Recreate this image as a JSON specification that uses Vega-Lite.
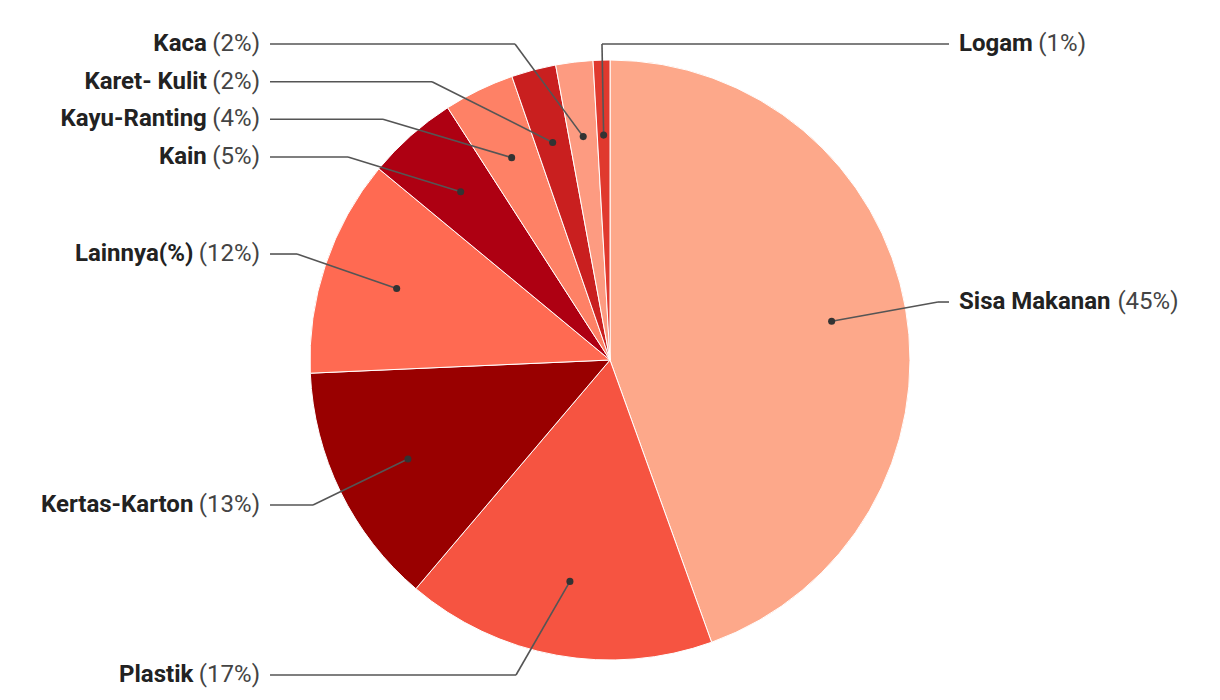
{
  "$schema": "https://vega.github.io/schema/vega-lite/v6.json",
  "width": 1220,
  "height": 680,
  "padding": {"top": 20, "left": 0, "right": 0, "bottom": 0},
  "autosize": {"type": "none"},
  "background": "white",
  "config": {"view": {"stroke": null}, "font": "Roboto"},
  "data": {
    "values": [
      {"idx": 1, "cat": "Sisa Makanan", "value": 44.5, "pct": "(45%)", "side": "R", "ex": 1.0933, "ly": 0.1933},
      {"idx": 2, "cat": "Plastik", "value": 16.7, "pct": "(17%)", "side": "L", "ex": -0.3133, "ly": -1.05},
      {"idx": 3, "cat": "Kertas-Karton", "value": 13.1, "pct": "(13%)", "side": "L", "ex": -0.99, "ly": -0.4833},
      {"idx": 4, "cat": "Lainnya(%)", "value": 11.7, "pct": "(12%)", "side": "L", "ex": -1.0433, "ly": 0.3533},
      {"idx": 5, "cat": "Kain", "value": 4.9, "pct": "(5%)", "side": "L", "ex": -0.8733, "ly": 0.6767},
      {"idx": 6, "cat": "Kayu-Ranting", "value": 3.8, "pct": "(4%)", "side": "L", "ex": -0.7567, "ly": 0.8023},
      {"idx": 7, "cat": "Karet- Kulit", "value": 2.4, "pct": "(2%)", "side": "L", "ex": -0.5933, "ly": 0.9277},
      {"idx": 8, "cat": "Kaca", "value": 2.0, "pct": "(2%)", "side": "L", "ex": -0.3167, "ly": 1.0533},
      {"idx": 9, "cat": "Logam", "value": 0.9, "pct": "(1%)", "side": "R", "ex": -0.0267, "ly": 1.0533}
    ]
  },
  "transform": [
    {"window": [{"op": "sum", "field": "value", "as": "cum"}], "sort": [{"field": "idx", "order": "ascending"}], "frame": [null, 0]},
    {"joinaggregate": [{"op": "sum", "field": "value", "as": "total"}]},
    {"calculate": "2*PI*(datum.cum - datum.value/2)/datum.total", "as": "mid"},
    {"calculate": "0.75*sin(datum.mid)", "as": "dotX"},
    {"calculate": "0.75*cos(datum.mid)", "as": "dotY"},
    {"calculate": "datum.side == 'L' ? -1.1333 : 1.13", "as": "lineEnd"}
  ],
  "layer": [
    {
      "mark": {"type": "arc", "outerRadius": 300, "stroke": "white", "strokeWidth": 1},
      "encoding": {
        "theta": {"field": "value", "type": "quantitative", "stack": true},
        "order": {"field": "idx", "type": "quantitative"},
        "color": {
          "field": "cat",
          "type": "nominal",
          "legend": null,
          "scale": {
            "domain": ["Sisa Makanan", "Plastik", "Kertas-Karton", "Lainnya(%)", "Kain", "Kayu-Ranting", "Karet- Kulit", "Kaca", "Logam"],
            "range": ["#fda88a", "#f65441", "#990000", "#ff6a52", "#ae0012", "#fe8166", "#c91f1f", "#fd9b81", "#e0392e"]
          }
        }
      }
    },
    {
      "mark": {"type": "rule", "color": "#555555", "strokeWidth": 1.6},
      "encoding": {
        "x": {"field": "dotX", "type": "quantitative", "scale": {"domain": [-2.03333, 2.03333], "nice": false, "zero": false}, "axis": null},
        "y": {"field": "dotY", "type": "quantitative", "scale": {"domain": [-1.13333, 1.13333], "nice": false, "zero": false}, "axis": null},
        "x2": {"field": "ex"},
        "y2": {"field": "ly"}
      }
    },
    {
      "mark": {"type": "rule", "color": "#555555", "strokeWidth": 1.6},
      "encoding": {
        "x": {"field": "ex", "type": "quantitative", "scale": {"domain": [-2.03333, 2.03333], "nice": false, "zero": false}, "axis": null},
        "y": {"field": "ly", "type": "quantitative", "scale": {"domain": [-1.13333, 1.13333], "nice": false, "zero": false}, "axis": null},
        "x2": {"field": "lineEnd"}
      }
    },
    {
      "mark": {"type": "point", "filled": true, "size": 50, "color": "#333333", "opacity": 1},
      "encoding": {
        "x": {"field": "dotX", "type": "quantitative", "scale": {"domain": [-2.03333, 2.03333], "nice": false, "zero": false}, "axis": null},
        "y": {"field": "dotY", "type": "quantitative", "scale": {"domain": [-1.13333, 1.13333], "nice": false, "zero": false}, "axis": null}
      }
    },
    {
      "transform": [
        {"filter": "datum.side == 'L'"},
        {"calculate": "-1.16667", "as": "tx"}
      ],
      "mark": {"type": "text", "align": "right", "baseline": "middle", "font": "Roboto", "fontSize": 24, "color": "#444444"},
      "encoding": {
        "x": {"field": "tx", "type": "quantitative", "scale": {"domain": [-2.03333, 2.03333], "nice": false, "zero": false}, "axis": null},
        "y": {"field": "ly", "type": "quantitative", "scale": {"domain": [-1.13333, 1.13333], "nice": false, "zero": false}, "axis": null},
        "text": {"field": "pct"}
      }
    },
    {
      "transform": [
        {"filter": "datum.side == 'L'"},
        {"calculate": "-1.16667 - (24*(1.404 + 0.5615*(length(datum.pct)-3) + 0.25))/300", "as": "tx"}
      ],
      "mark": {"type": "text", "align": "right", "baseline": "middle", "font": "Roboto", "fontSize": 24, "fontWeight": "bold", "color": "#222222"},
      "encoding": {
        "x": {"field": "tx", "type": "quantitative", "scale": {"domain": [-2.03333, 2.03333], "nice": false, "zero": false}, "axis": null},
        "y": {"field": "ly", "type": "quantitative", "scale": {"domain": [-1.13333, 1.13333], "nice": false, "zero": false}, "axis": null},
        "text": {"field": "cat"}
      }
    },
    {
      "transform": [
        {"filter": "datum.side == 'R'"},
        {"calculate": "1.16333", "as": "tx"}
      ],
      "mark": {"type": "text", "align": "left", "baseline": "middle", "font": "Roboto", "fontSize": 24, "fontWeight": "bold", "color": "#222222"},
      "encoding": {
        "x": {"field": "tx", "type": "quantitative", "scale": {"domain": [-2.03333, 2.03333], "nice": false, "zero": false}, "axis": null},
        "y": {"field": "ly", "type": "quantitative", "scale": {"domain": [-1.13333, 1.13333], "nice": false, "zero": false}, "axis": null},
        "text": {"field": "cat"}
      }
    },
    {
      "transform": [
        {"filter": "datum.side == 'R'"},
        {"calculate": "1.16333 + (11.29*length(datum.cat) + 22.9)/300", "as": "tx"}
      ],
      "mark": {"type": "text", "align": "left", "baseline": "middle", "font": "Roboto", "fontSize": 24, "color": "#444444"},
      "encoding": {
        "x": {"field": "tx", "type": "quantitative", "scale": {"domain": [-2.03333, 2.03333], "nice": false, "zero": false}, "axis": null},
        "y": {"field": "ly", "type": "quantitative", "scale": {"domain": [-1.13333, 1.13333], "nice": false, "zero": false}, "axis": null},
        "text": {"field": "pct"}
      }
    }
  ]
}
